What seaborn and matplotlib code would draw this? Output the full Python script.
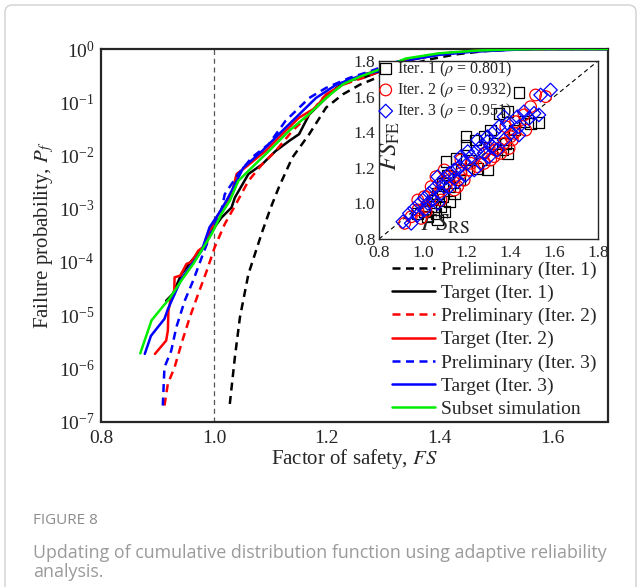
import numpy as np
import pandas as pd
import matplotlib
matplotlib.use("Agg")
import matplotlib.pyplot as plt
import seaborn as sns
from matplotlib.patches import FancyBboxPatch
from matplotlib.ticker import LogLocator, MultipleLocator, NullFormatter

# ---------------- data ----------------
# Main plot: factor of safety vs log10(failure probability)
fs_pre1 = [1.028, 1.037, 1.046, 1.061, 1.085, 1.100, 1.115, 1.139, 1.169, 1.199, 1.229, 1.259, 1.289, 1.33, 1.38, 1.43, 1.48, 1.53, 1.58, 1.70]
lp_pre1 = [-6.67, -5.79, -5.04, -4.23, -3.45, -3.00, -2.60, -2.04, -1.60, -1.10, -0.85, -0.67, -0.54, -0.35, -0.20, -0.10, -0.04, -0.01, 0, 0]

fs_tar1 = [0.915, 0.927, 0.942, 0.960, 0.981, 0.996, 1.013, 1.031, 1.037, 1.061, 1.085, 1.109, 1.133, 1.151, 1.169, 1.193, 1.217, 1.235, 1.265, 1.30, 1.35, 1.40, 1.45, 1.50, 1.56, 1.70]
lp_tar1 = [-4.73, -4.60, -4.23, -3.98, -3.73, -3.42, -3.17, -2.98, -2.79, -2.35, -2.17, -1.92, -1.73, -1.60, -1.23, -0.98, -0.73, -0.60, -0.54, -0.40, -0.20, -0.10, -0.05, -0.02, 0, 0]

fs_pre2 = [0.912, 0.918, 0.930, 0.942, 0.957, 0.972, 0.987, 1.001, 1.019, 1.037, 1.061, 1.085, 1.109, 1.139, 1.169, 1.193, 1.229, 1.265, 1.30, 1.35, 1.40, 1.46, 1.52, 1.57, 1.70]
lp_pre2 = [-6.70, -6.29, -5.98, -5.54, -5.04, -4.60, -4.17, -3.73, -3.29, -2.95, -2.48, -2.17, -1.92, -1.54, -1.23, -0.92, -0.67, -0.54, -0.40, -0.20, -0.10, -0.04, -0.01, 0, 0]

fs_tar2 = [0.895, 0.915, 0.918, 0.919, 0.924, 0.929, 0.930, 0.940, 0.951, 0.960, 0.972, 0.987, 0.991, 1.008, 1.031, 1.040, 1.055, 1.091, 1.121, 1.151, 1.181, 1.199, 1.229, 1.265, 1.30, 1.35, 1.40, 1.46, 1.52, 1.57, 1.70]
lp_tar2 = [-5.73, -5.48, -5.29, -4.92, -4.64, -4.62, -4.29, -4.26, -4.04, -4.00, -3.79, -3.67, -3.45, -3.10, -2.73, -2.35, -2.23, -1.92, -1.60, -1.29, -1.10, -0.85, -0.67, -0.48, -0.38, -0.18, -0.09, -0.04, -0.01, 0, 0]

fs_pre3 = [0.909, 0.912, 0.924, 0.933, 0.948, 0.963, 0.978, 0.996, 1.013, 1.019, 1.043, 1.067, 1.097, 1.127, 1.169, 1.199, 1.241, 1.277, 1.32, 1.37, 1.42, 1.48, 1.54, 1.70]
lp_pre3 = [-6.70, -5.98, -5.67, -5.23, -4.73, -4.35, -3.92, -3.42, -3.04, -2.73, -2.35, -2.04, -1.79, -1.35, -0.92, -0.73, -0.54, -0.42, -0.25, -0.14, -0.07, -0.03, 0, 0]

fs_tar3 = [0.877, 0.888, 0.912, 0.918, 0.942, 0.963, 0.978, 0.992, 1.008, 1.022, 1.031, 1.052, 1.085, 1.121, 1.151, 1.181, 1.217, 1.265, 1.30, 1.35, 1.40, 1.46, 1.52, 1.57, 1.70]
lp_tar3 = [-5.73, -5.39, -5.07, -4.89, -4.32, -4.01, -3.79, -3.35, -3.10, -2.85, -2.67, -2.23, -1.92, -1.54, -1.23, -0.92, -0.67, -0.48, -0.40, -0.20, -0.11, -0.05, -0.02, 0, 0]

fs_sub = [0.869, 0.889, 0.909, 0.921, 0.942, 0.963, 0.981, 0.996, 1.013, 1.028, 1.043, 1.061, 1.097, 1.133, 1.169, 1.199, 1.229, 1.259, 1.295, 1.34, 1.40, 1.467, 1.52, 1.58, 1.70]
lp_sub = [-5.72, -5.10, -4.84, -4.69, -4.35, -4.04, -3.73, -3.47, -3.10, -2.85, -2.48, -2.29, -1.92, -1.54, -1.22, -0.92, -0.66, -0.52, -0.38, -0.18, -0.08, -0.03, -0.01, 0, 0]

legend_labels = ["Preliminary (Iter. 1)", "Target (Iter. 1)", "Preliminary (Iter. 2)",
                 "Target (Iter. 2)", "Preliminary (Iter. 3)", "Target (Iter. 3)", "Subset simulation"]

# Inset: FS_RS (x) vs FS_FE (y)
rs_it1 = [1.439, 1.348, 1.386, 1.530, 1.462, 1.197, 1.197, 1.242, 1.280, 1.364, 1.379, 1.106, 1.152, 1.250, 1.295,
          1.167, 1.121, 1.091, 1.121, 1.083, 1.060, 1.023, 1.068, 1.007, 1.053, 1.098, 0.977, 1.144, 1.068, 1.220,
          1.310, 1.417, 1.492, 1.326, 1.386, 1.174, 1.045, 1.114, 1.091]
fe_it1 = [1.624, 1.506, 1.515, 1.454, 1.459, 1.375, 1.328, 1.356, 1.375, 1.300, 1.337, 1.234, 1.253, 1.197, 1.188,
          1.131, 1.094, 1.038, 1.010, 0.982, 0.944, 0.925, 0.907, 0.954, 0.982, 0.954, 0.944, 1.057, 1.057, 1.244,
          1.412, 1.412, 1.450, 1.337, 1.281, 1.188, 1.019, 1.160, 1.113]

rs_it2 = [1.515, 1.561, 1.492, 1.462, 1.470, 1.417, 1.409, 1.371, 1.348, 1.394, 1.326, 1.310, 1.280, 1.250, 1.212,
          1.174, 1.144, 1.098, 1.121, 1.106, 1.060, 1.038, 1.076, 1.045, 1.007, 0.977, 1.015, 0.977, 0.947, 0.917,
          0.992, 1.015, 1.144, 1.159, 1.189, 1.220, 1.280, 1.333, 1.356, 1.379, 1.424, 1.401, 1.303, 1.174, 1.083]
fe_it2 = [1.609, 1.600, 1.543, 1.497, 1.412, 1.394, 1.356, 1.337, 1.309, 1.309, 1.263, 1.244, 1.225, 1.206, 1.188,
          1.169, 1.141, 1.188, 1.150, 1.113, 1.150, 1.094, 1.066, 1.019, 1.038, 1.019, 0.982, 0.963, 0.925, 0.888,
          0.916, 0.954, 1.075, 1.094, 1.131, 1.225, 1.281, 1.300, 1.281, 1.431, 1.459, 1.375, 1.309, 1.244, 1.019]

rs_it3 = [1.583, 1.538, 1.530, 1.508, 1.462, 1.432, 1.439, 1.386, 1.371, 1.348, 1.326, 1.295, 1.265, 1.242, 1.280,
          1.318, 1.220, 1.189, 1.167, 1.144, 1.121, 1.098, 1.076, 1.053, 1.030, 1.007, 0.985, 0.962, 0.939, 0.909,
          0.947, 0.977, 1.007, 1.045, 1.083, 1.121, 1.159, 1.197, 1.235, 1.265, 1.303, 1.341, 1.371, 1.401, 1.439,
          1.485, 1.144, 1.098, 1.068, 1.023, 1.068, 1.174, 1.205, 1.250, 1.295]
fe_it3 = [1.637, 1.609, 1.497, 1.506, 1.515, 1.487, 1.384, 1.450, 1.487, 1.431, 1.403, 1.347, 1.319, 1.291, 1.281,
          1.319, 1.263, 1.234, 1.206, 1.188, 1.169, 1.141, 1.113, 1.085, 1.057, 1.028, 1.000, 0.972, 0.944, 0.897,
          0.888, 0.935, 0.963, 1.019, 1.057, 1.094, 1.122, 1.160, 1.188, 1.225, 1.263, 1.300, 1.356, 1.394, 1.431,
          1.478, 1.141, 1.094, 1.150, 1.000, 1.000, 1.263, 1.291, 1.356, 1.375]

inset_labels = [r"Iter. 1 ($\rho$ = 0.801)", r"Iter. 2 ($\rho$ = 0.932)", r"Iter. 3 ($\rho$ = 0.951)"]

# ---------------- style ----------------
sns.set_style("white")
plt.rcParams["font.family"] = ["Liberation Serif", "DejaVu Serif"]
plt.rcParams["mathtext.fontset"] = "stix"
plt.rcParams["axes.linewidth"] = 1.6

W, H = 641, 587
fig = plt.figure(figsize=(W / 100, H / 100), dpi=100)

# frame around the figure panel
fig.patches.append(FancyBboxPatch((5 / W, -20 / H), 631 / W, (H - 5 + 20) / H,
                                  boxstyle="round,pad=0,rounding_size=0.012",
                                  transform=fig.transFigure, fc="none", ec="#d0d0d0", lw=1.0))

ax = fig.add_axes([101.4 / W, 1 - 421.5 / H, (608.3 - 101.4) / W, (421.5 - 49) / H])

dash = (0, (3.2, 2.2))
series = [
    (fs_pre1, lp_pre1, "black", dash),
    (fs_tar1, lp_tar1, "black", "-"),
    (fs_pre2, lp_pre2, "#ff0000", dash),
    (fs_tar2, lp_tar2, "#ff0000", "-"),
    (fs_pre3, lp_pre3, "#0000ff", dash),
    (fs_tar3, lp_tar3, "#0000ff", "-"),
    (fs_sub, lp_sub, "#00ee00", "-"),
]
ax.axvline(1.0, color="#555555", lw=0.9, ls=(0, (4, 3)), zorder=1)
for (xs, lps, c, ls), lab in zip(series, legend_labels):
    df = pd.DataFrame({"FS": xs, "Pf": 10.0 ** np.array(lps)})
    sns.lineplot(data=df, x="FS", y="Pf", ax=ax, color=c, linestyle=ls, lw=1.8,
                 estimator=None, sort=False, label=lab, zorder=3)

ax.set_yscale("log")
ax.set_xlim(0.8, 1.7)
ax.set_ylim(1e-7, 1.0)
ax.xaxis.set_minor_locator(MultipleLocator(0.1))
ax.set_xticks([0.8, 1.0, 1.2, 1.4, 1.6])
ax.set_xticklabels(["0.8", "1.0", "1.2", "1.4", "1.6"])
ax.yaxis.set_major_locator(LogLocator(base=10, numticks=20))
ax.yaxis.set_minor_locator(LogLocator(base=10, subs=np.arange(2, 10), numticks=20))
ax.yaxis.set_minor_formatter(NullFormatter())
ax.tick_params(axis="both", which="both", direction="in", labelsize=14, width=1.2)
ax.tick_params(axis="x", which="both", length=6, pad=6)
ax.tick_params(axis="y", which="major", length=6, pad=5)
ax.tick_params(axis="y", which="minor", length=4)
ax.set_xlabel(r"Factor of safety, $FS$", fontsize=15, labelpad=0)
ax.set_ylabel(r"Failure probability, $P_f$", fontsize=15, labelpad=2)

handles = ax.get_lines()[1:]
ax.legend(handles, legend_labels, loc="lower right", frameon=False, fontsize=14,
          handlelength=2.2, handletextpad=0.3, labelspacing=0.28,
          borderaxespad=0.0, borderpad=0.0, bbox_to_anchor=(0.976, 0.01))

# ---------------- inset ----------------
ins = fig.add_axes([379 / W, 1 - 239 / H, (598 - 379) / W, (239 - 61) / H])
ins.set_facecolor("white")
ins.set_zorder(5)
for sp in ins.spines.values():
    sp.set_linewidth(1.0)
ins.plot([0.8, 1.8], [0.8, 1.8], color="black", lw=0.8, ls=(0, (4, 3)))
sns.scatterplot(x=rs_it1, y=fe_it1, ax=ins, marker="s", s=60, facecolor="none",
                edgecolor="black", linewidth=0.9, label=inset_labels[0], zorder=3)
sns.scatterplot(x=rs_it2, y=fe_it2, ax=ins, marker="o", s=70, facecolor="none",
                edgecolor="#ff0000", linewidth=0.9, label=inset_labels[1], zorder=4)
sns.scatterplot(x=rs_it3, y=fe_it3, ax=ins, marker="D", s=48, facecolor="none",
                edgecolor="#0000ff", linewidth=0.9, label=inset_labels[2], zorder=5)
ins.set_xlim(0.8, 1.8)
ins.set_ylim(0.8, 1.8)
ins.set_xticks([0.8, 1.0, 1.2, 1.4, 1.6, 1.8])
ins.set_yticks([0.8, 1.0, 1.2, 1.4, 1.6, 1.8])
ins.set_xticklabels(["0.8", "1.0", "1.2", "1.4", "1.6", "1.8"])
ins.set_yticklabels(["0.8", "1.0", "1.2", "1.4", "1.6", "1.8"])
ins.tick_params(direction="in", labelsize=12.5, length=4, width=0.9)
ins.tick_params(axis="x", pad=4.5)
ins.tick_params(axis="y", pad=2.5)
ins.set_xlabel("")
ins.set_ylabel("")
ins.text(0.05, 0.52, r"$FS_{\mathrm{FE}}$", transform=ins.transAxes, rotation=90,
         fontsize=18, ha="center", va="center")
ins.text(0.30, 0.085, r"$FS_{\mathrm{RS}}$", transform=ins.transAxes,
         fontsize=18, ha="center", va="center")
ins.legend(loc="upper left", frameon=False, fontsize=11.5, handletextpad=0.2,
           labelspacing=0.12, borderaxespad=0.0, bbox_to_anchor=(-0.035, 1.045),
           handlelength=1.0, markerscale=1.0)

# ---------------- caption ----------------
fig.text(33 / W, 1 - 521 / H, "FIGURE 8", family="Open Sans", fontsize=11,
         color="#8c8c8c", va="center", ha="left")
fig.text(33 / W, 1 - 553 / H, "Updating of cumulative distribution function using adaptive reliability",
         family="Open Sans", fontsize=12.9, color="#9a9a9a", va="center", ha="left")
fig.text(33 / W, 1 - 572 / H, "analysis.", family="Open Sans", fontsize=12.9,
         color="#9a9a9a", va="center", ha="left")

fig.savefig("out.png", dpi=100)
